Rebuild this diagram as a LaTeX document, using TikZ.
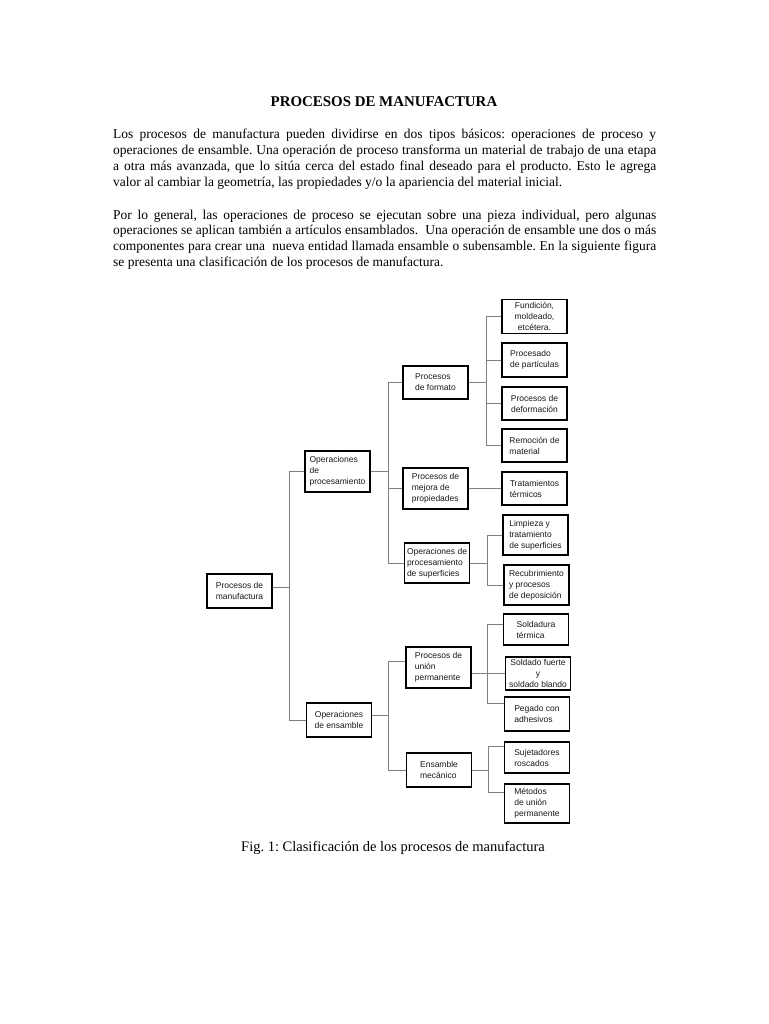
\documentclass[tikz,border=0pt]{standalone}
\usepackage{fontspec}
\setmainfont{Liberation Serif}
\newfontfamily\boxfont{Liberation Sans}
\usetikzlibrary{calc}
\frenchspacing
\begin{document}
\begin{tikzpicture}[x=1pt,y=-1pt,
  bx/.style={draw=black, line width=1.2pt, minimum width=65pt, inner xsep=1pt, inner ysep=0.5pt,
    font=\boxfont\fontsize{8.5}{11}\selectfont, text=black!90, align=left},
  conn/.style={draw=black!50, line width=0.9pt},
  para/.style={anchor=base west, inner sep=0pt, align=left, font=\fontsize{13.5}{15.8}\selectfont\frenchspacing}
]
\useasboundingbox (0,0) rectangle (768,1024);
\fill[white] (0,0) rectangle (768,1024);

% texts
\node[anchor=base, inner sep=0pt, font=\bfseries\fontsize{14.9}{18}\selectfont] (title) at (384,107) {PROCESOS DE MANUFACTURA};

\node[para] (par1) at (113,186.4) {\makebox[543pt][s]{Los procesos de manufactura pueden dividirse en dos tipos básicos: operaciones de proceso y}\\
\makebox[543pt][s]{operaciones de ensamble. Una operación de proceso transforma un material de trabajo de una etapa}\\
\makebox[543pt][s]{a otra más avanzada, que lo sitúa cerca del estado final deseado para el producto. Esto le agrega}\\
valor al cambiar la geometría, las propiedades y/o la apariencia del material inicial.};

\node[para] (par2) at (113,266.4) {\makebox[543pt][s]{Por lo general, las operaciones de proceso se ejecutan sobre una pieza individual, pero algunas}\\
\makebox[543pt][s]{operaciones se aplican también a artículos ensamblados.\ \ Una operación de ensamble une dos o más}\\
\makebox[543pt][s]{componentes para crear una\ \ nueva entidad llamada ensamble o subensamble. En la siguiente figura}\\
se presenta una clasificación de los procesos de manufactura.};

\node[anchor=base, inner sep=0pt, font=\fontsize{14.5}{17}\selectfont] (cap) at (393,851) {Fig. 1: Clasificación de los procesos de manufactura};

% boxes
\node[bx, minimum height=34pt] (pm) at (239.5,591) {Procesos de\\manufactura};
\node[bx, minimum height=41pt] (opp) at (337.5,471.5) {Operaciones\\de\\procesamiento};
\node[bx, minimum height=34pt, align=center] (ope) at (339,720) {Operaciones\\de ensamble};
\node[bx, minimum height=33pt] (pf) at (435.5,382.5) {Procesos\\de formato};
\node[bx, minimum height=41pt] (pmp) at (435.5,488.5) {Procesos de\\mejora de\\propiedades};
\node[bx, minimum height=40pt] (ops) at (437,563) {Operaciones de\\procesamiento\\de superficies};
\node[bx, minimum height=41pt] (pup) at (438.5,667.5) {Procesos de\\unión\\permanente};
\node[bx, minimum height=34pt] (em) at (439,770) {Ensamble\\mecánico};

\node[bx, minimum height=34pt, align=center] (f1) at (534.5,316.5) {Fundición,\\moldeado,\\etcétera.};
\node[bx, minimum height=34pt] (f2) at (534.5,360) {Procesado\\de partículas};
\node[bx, minimum height=33pt, align=center] (f3) at (534.5,403.5) {Procesos de\\deformación};
\node[bx, minimum height=33pt] (f4) at (534.5,445.5) {Remoción de\\material};
\node[bx, minimum height=33pt] (t1) at (534.5,488.5) {Tratamientos\\térmicos};
\node[bx, minimum height=40pt] (s1) at (535.5,535) {Limpieza y\\tratamiento\\de superficies};
\node[bx, minimum height=40pt] (s2) at (536.5,585) {Recubrimiento\\y procesos\\de deposición};
\node[bx, minimum height=31pt] (u1) at (536,629.5) {Soldadura\\térmica};
\node[bx, minimum height=33pt, align=center] (u2) at (538,673.5) {Soldado fuerte\\y\\soldado blando};
\node[bx, minimum height=34pt] (u3) at (537,714) {Pegado con\\adhesivos};
\node[bx, minimum height=31pt] (m1) at (537,757.5) {Sujetadores\\roscados};
\node[bx, minimum height=39pt] (m2) at (537,803.5) {Métodos\\de unión\\permanente};

% bus positions and ports
\coordinate (b1) at (289,0);
\coordinate (b2) at (388,0);
\coordinate (b3) at (486,0);
\coordinate (b4) at (487,0);
\coordinate (b5) at (388.5,0);
\coordinate (b6) at (487.5,0);
\coordinate (b7) at (488,0);
\coordinate (pmE) at ($(pm.north east)+(0,14)$);
\coordinate (opeE) at ($(ope.north east)+(0,13)$);
\coordinate (pupW) at ($(pup.north west)+(0,15)$);
\coordinate (u1W) at ($(u1.north west)+(0,11)$);
\coordinate (u3W) at ($(u3.north west)+(0,7)$);
\coordinate (m1W) at ($(m1.north west)+(0,5)$);
\coordinate (m2W) at ($(m2.north west)+(0,9)$);

% connectors
\draw[conn] (pmE) -- (pmE -| b1);
\draw[conn] (opp.west) -- (opp.west -| b1) -- (ope.west -| b1) -- (ope.west);

\draw[conn] (opp.east) -- (opp.east -| b2);
\draw[conn] (pf.west) -- (pf.west -| b2) -- (ops.west -| b2) -- (ops.west);
\draw[conn] (pmp.west) -- (pmp.west -| b2);

\draw[conn] (pf.east) -- (pf.east -| b3);
\draw[conn] (f1.west) -- (f1.west -| b3) -- (f4.west -| b3) -- (f4.west);
\draw[conn] (f2.west) -- (f2.west -| b3);
\draw[conn] (f3.west) -- (f3.west -| b3);

\draw[conn] (pmp.east) -- (t1.west);

\draw[conn] (ops.east) -- (ops.east -| b4);
\draw[conn] (s1.west) -- (s1.west -| b4) -- (s2.west -| b4) -- (s2.west);

\draw[conn] (opeE) -- (opeE -| b5);
\draw[conn] (pupW) -- (pupW -| b5) -- (em.west -| b5) -- (em.west);

\draw[conn] (u2.west -| pup.east) -- (u2.west);
\draw[conn] (u1W) -- (u1W -| b6) -- (u3W -| b6) -- (u3W);

\draw[conn] (em.east) -- (em.east -| b7);
\draw[conn] (m1W) -- (m1W -| b7) -- (m2W -| b7) -- (m2W);
\end{tikzpicture}
\end{document}
